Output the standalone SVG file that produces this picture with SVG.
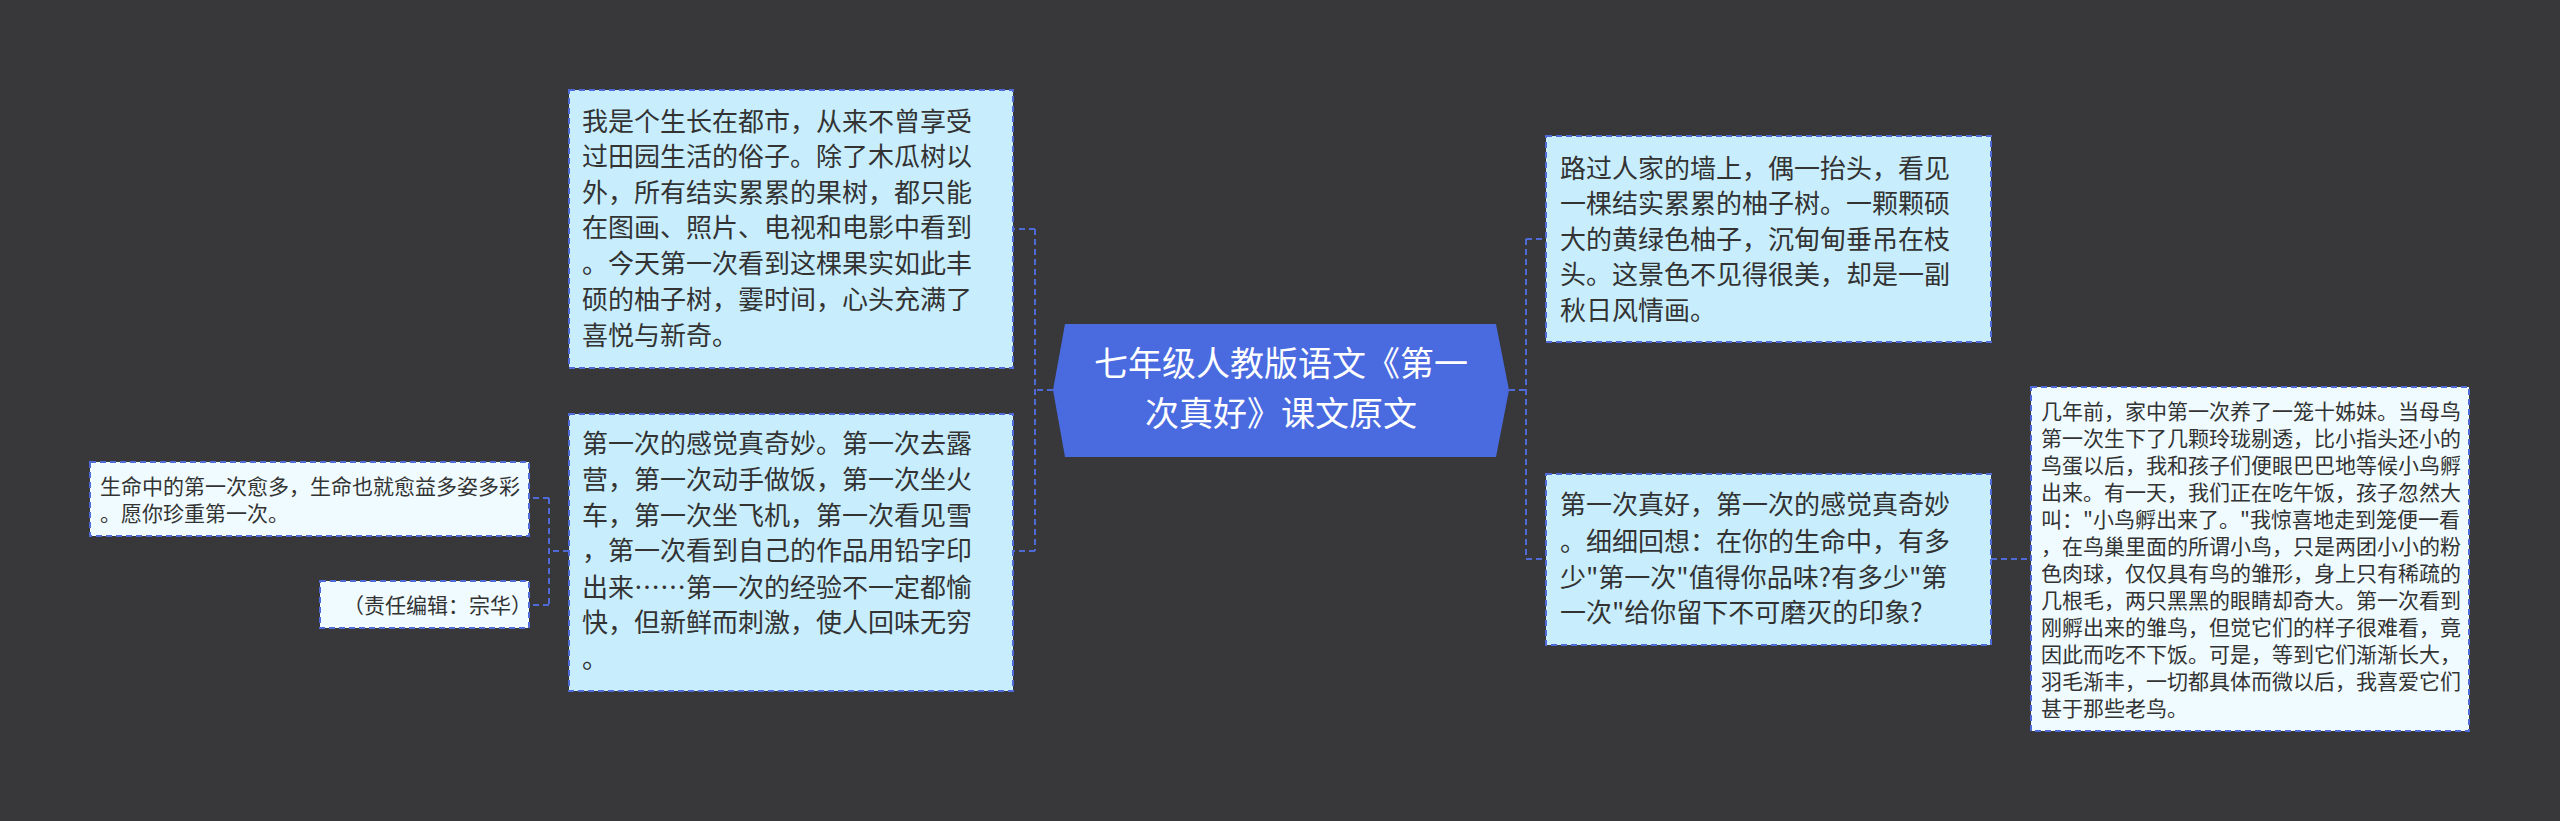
<svg xmlns="http://www.w3.org/2000/svg" width="2560" height="821" viewBox="0 0 2560 821">
<style>
.b{fill:#c8eefe;stroke:#4f6ad6;stroke-width:2;stroke-dasharray:6 4}
.s{fill:#effbff;stroke:#4f6ad6;stroke-width:2;stroke-dasharray:6 4}
.c{fill:none;stroke:#4f6ad6;stroke-width:2;stroke-dasharray:6 4}
text{font-family:"Noto Sans CJK SC","Liberation Sans",sans-serif;fill:#333}
.t{font-size:26px}
.m{font-size:21px}
</style>
<rect width="2560" height="821" fill="#38383a"/>
<g id="connectors">
<path class="c" d="M1053 390H1035M1035 229V551M1035 229H1013M1035 551H1013"/>
<path class="c" d="M569 551H549M549 498V605M549 498H529M549 605H529"/>
<path class="c" d="M1509 390H1526M1526 239V559M1526 239H1546M1526 559H1546M1991 559H2031"/>
</g>
<g id="center">
<path d="M1065 324H1496L1509 390L1496 457H1065L1053 390Z" fill="#4a6ae0"/>
<text x="1281" y="376" font-size="34" text-anchor="middle" style="fill:#fff">七年级人教版语文《第一</text>
<text x="1281" y="426" font-size="34" text-anchor="middle" style="fill:#fff">次真好》课文原文</text>
</g>
<g id="nA">
<rect class="b" x="569" y="90" width="444" height="278"/>
<text class="t" x="582"><tspan x="582" y="131">我是个生长在都市，从来不曾享受</tspan><tspan x="582" y="166">过田园生活的俗子。除了木瓜树以</tspan><tspan x="582" y="202">外，所有结实累累的果树，都只能</tspan><tspan x="582" y="237">在图画、照片、电视和电影中看到</tspan><tspan x="582" y="273">。今天第一次看到这棵果实如此丰</tspan><tspan x="582" y="309">硕的柚子树，霎时间，心头充满了</tspan><tspan x="582" y="345">喜悦与新奇。</tspan></text>
</g>
<g id="nB">
<rect class="b" x="569" y="414" width="444" height="277"/>
<text class="t"><tspan x="582" y="453">第一次的感觉真奇妙。第一次去露</tspan><tspan x="582" y="489">营，第一次动手做饭，第一次坐火</tspan><tspan x="582" y="525">车，第一次坐飞机，第一次看见雪</tspan><tspan x="582" y="560">，第一次看到自己的作品用铅字印</tspan><tspan x="582" y="597">出来……第一次的经验不一定都愉</tspan><tspan x="582" y="632">快，但新鲜而刺激，使人回味无穷</tspan><tspan x="582" y="668">。</tspan></text>
</g>
<g id="nC">
<rect class="s" x="90" y="462" width="439" height="74"/>
<text class="m"><tspan x="100" y="494">生命中的第一次愈多，生命也就愈益多姿多彩</tspan><tspan x="100" y="521">。愿你珍重第一次。</tspan></text>
</g>
<g id="nD">
<rect class="s" x="320" y="581" width="209" height="47"/>
<text class="m" x="343" y="613">（责任编辑：宗华）</text>
</g>
<g id="nE">
<rect class="b" x="1546" y="136" width="445" height="206"/>
<text class="t"><tspan x="1560" y="178">路过人家的墙上，偶一抬头，看见</tspan><tspan x="1560" y="213">一棵结实累累的柚子树。一颗颗硕</tspan><tspan x="1560" y="249">大的黄绿色柚子，沉甸甸垂吊在枝</tspan><tspan x="1560" y="284">头。这景色不见得很美，却是一副</tspan><tspan x="1560" y="320">秋日风情画。</tspan></text>
</g>
<g id="nF">
<rect class="b" x="1546" y="474" width="445" height="171"/>
<text class="t"><tspan x="1560" y="514">第一次真好，第一次的感觉真奇妙</tspan><tspan x="1560" y="551">。细细回想：在你的生命中，有多</tspan><tspan x="1560" y="587">少"第一次"值得你品味?有多少"第</tspan><tspan x="1560" y="622">一次"给你留下不可磨灭的印象?</tspan></text>
</g>
<g id="nG">
<rect class="s" x="2031" y="387" width="438" height="344"/>
<text class="m"><tspan x="2041" y="419">几年前，家中第一次养了一笼十姊妹。当母鸟</tspan><tspan x="2041" y="446">第一次生下了几颗玲珑剔透，比小指头还小的</tspan><tspan x="2041" y="473">鸟蛋以后，我和孩子们便眼巴巴地等候小鸟孵</tspan><tspan x="2041" y="500">出来。有一天，我们正在吃午饭，孩子忽然大</tspan><tspan x="2041" y="527">叫："小鸟孵出来了。"我惊喜地走到笼便一看</tspan><tspan x="2041" y="554">，在鸟巢里面的所谓小鸟，只是两团小小的粉</tspan><tspan x="2041" y="581">色肉球，仅仅具有鸟的雏形，身上只有稀疏的</tspan><tspan x="2041" y="608">几根毛，两只黑黑的眼睛却奇大。第一次看到</tspan><tspan x="2041" y="635">刚孵出来的雏鸟，但觉它们的样子很难看，竟</tspan><tspan x="2041" y="662">因此而吃不下饭。可是，等到它们渐渐长大，</tspan><tspan x="2041" y="689">羽毛渐丰，一切都具体而微以后，我喜爱它们</tspan><tspan x="2041" y="716">甚于那些老鸟。</tspan></text>
</g>
</svg>
